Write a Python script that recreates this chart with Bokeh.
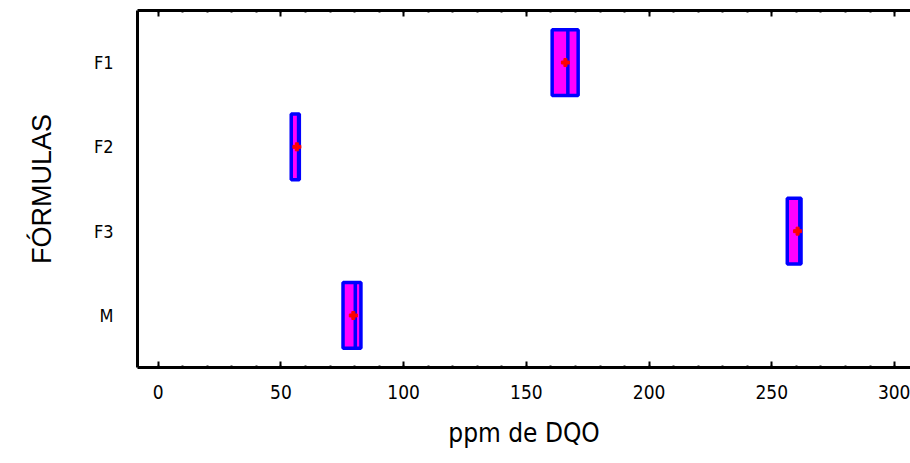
from bokeh.plotting import figure
from bokeh.models import (FactorRange, Range1d, LinearAxis, CategoricalAxis,
                          SingleIntervalTicker, ColumnDataSource)
from bokeh.transform import dodge
from bokeh.embed import file_html
from bokeh.resources import INLINE

# data
categories = ["F1", "F2", "F3", "M"]
q1 = [160.5, 54.2, 256.3, 75.3]
q3 = [171.1, 57.5, 261.9, 82.6]
medians = [166.9, 57.2, 261.4, 80.3]
means = [165.9, 56.5, 260.5, 79.5]
x_tick_values = [0, 50, 100, 150, 200, 250, 300]
x_ticks_major = 50
x_minor_per_major = 5

NARROW = "'DejaVu Sans Condensed', 'Liberation Sans', sans-serif"

p = figure(
    width=910, height=463,
    x_range=Range1d(-8.43, 306.5),
    y_range=FactorRange(factors=list(reversed(categories)),
                        range_padding=0.117, range_padding_units="absolute"),
    output_backend="svg", toolbar_location=None,
    min_border_left=137, min_border_right=0, min_border_top=10, min_border_bottom=96,
    x_axis_location=None, y_axis_location=None,
)
p.outline_line_color = None
p.grid.visible = False
p.background_fill_color = "white"
p.border_fill_color = "white"

ticker = SingleIntervalTicker(interval=x_ticks_major, num_minor_ticks=x_minor_per_major)

bottom = LinearAxis(ticker=ticker, axis_label="ppm de DQO")
top = LinearAxis(ticker=ticker)
for ax in (bottom, top):
    ax.axis_line_width = 3
    ax.axis_line_color = "black"
    ax.major_tick_in = 6
    ax.major_tick_out = 0
    ax.minor_tick_in = 2
    ax.minor_tick_out = 0
    ax.major_tick_line_width = 2
    ax.minor_tick_line_width = 2
    ax.major_tick_line_color = "black"
    ax.minor_tick_line_color = "black"
bottom.major_label_text_font = NARROW
bottom.major_label_text_font_size = "19px"
bottom.major_label_text_color = "black"
bottom.major_label_standoff = 17
bottom.axis_label_text_font = NARROW
bottom.axis_label_text_font_size = "26px"
bottom.axis_label_text_font_style = "normal"
bottom.axis_label_text_color = "black"
bottom.axis_label_standoff = 16
top.major_label_overrides = {v: "" for v in x_tick_values}
top.major_label_standoff = 0
p.add_layout(bottom, "below")
p.add_layout(top, "above")

left = CategoricalAxis(axis_label="FÓRMULAS")
left.axis_line_width = 3
left.axis_line_color = "black"
left.major_tick_line_color = None
left.minor_tick_line_color = None
left.major_label_text_font = NARROW
left.major_label_text_font_size = "18px"
left.major_label_text_color = "black"
left.major_label_standoff = 18
left.axis_label_text_font = "Liberation Sans"
left.axis_label_text_font_size = "27px"
left.axis_label_text_font_style = "normal"
left.axis_label_text_color = "black"
left.axis_label_standoff = 34
p.add_layout(left, "left")

source = ColumnDataSource(dict(cat=categories, q1=q1, q3=q3, med=medians, mean=means))

box_h = 0.78
p.hbar(y="cat", left="q1", right="q3", height=box_h, source=source,
       fill_color="#FF00FF", line_color="#0000FF", line_width=3.5)
p.segment(x0="med", x1="med",
          y0=dodge("cat", -box_h / 2, range=p.y_range),
          y1=dodge("cat", box_h / 2, range=p.y_range),
          source=source, line_color="#0000FF", line_width=3.5)
p.scatter(x="mean", y="cat", source=source, marker="plus", size=8,
          line_color="#FF0000", fill_color="#FF0000", line_width=1)

open("out.html", "w").write(file_html(p, INLINE))
